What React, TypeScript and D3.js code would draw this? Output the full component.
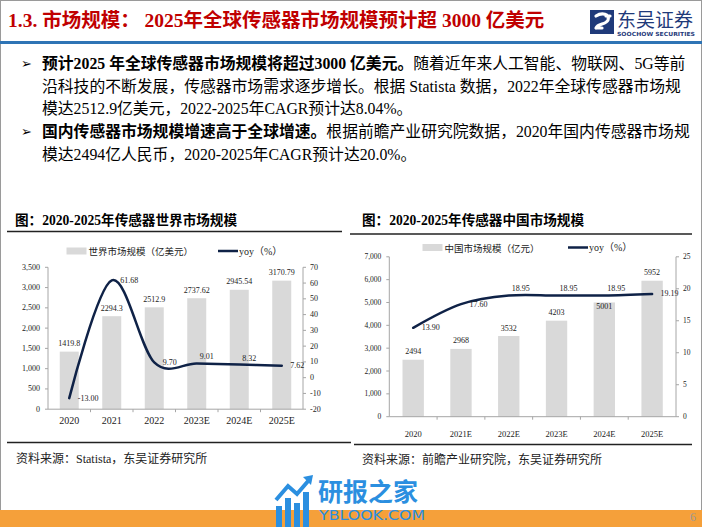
import React from 'react';
import * as d3 from 'd3';

// ---------- data ----------
const worldYears = ['2020', '2021', '2022', '2023E', '2024E', '2025E'];
const worldSize = [1419.8, 2294.3, 2512.9, 2737.62, 2945.54, 3170.79];
const worldSizeLabels = ['1419.8', '2294.3', '2512.9', '2737.62', '2945.54', '3170.79'];
const worldYoy = [-13.0, 61.68, 9.7, 9.01, 8.32, 7.62];
const worldYoyLabels = ['-13.00', '61.68', '9.70', '9.01', '8.32', '7.62'];
const worldYoyLabelPos = ['right', 'right', 'right', 'above', 'above', 'right'];
const worldBarLabelPos = ['above', 'above', 'above', 'above', 'above', 'above'];
const worldLeftTicks = [0, 500, 1000, 1500, 2000, 2500, 3000, 3500];
const worldRightTicks = [-20, -10, 0, 10, 20, 30, 40, 50, 60, 70];

const chinaYears = ['2020', '2021E', '2022E', '2023E', '2024E', '2025E'];
const chinaSize = [2494, 2968, 3532, 4203, 5001, 5952];
const chinaSizeLabels = ['2494', '2968', '3532', '4203', '5001', '5952'];
const chinaYoy = [13.9, 17.6, 18.95, 18.95, 18.95, 19.19];
const chinaYoyLabels = ['13.90', '17.60', '18.95', '18.95', '18.95', '19.19'];
const chinaYoyLabelPos = ['right', 'right', 'above', 'above', 'above', 'right'];
const chinaBarLabelPos = ['above', 'above', 'above', 'above', 'inside', 'above'];
const chinaLeftTicks = [0, 1000, 2000, 3000, 4000, 5000, 6000, 7000];
const chinaRightTicks = [0, 5, 10, 15, 20, 25];

const SERIF = "'Liberation Serif','Times New Roman','Noto Sans CJK SC',serif";
const CJK = "'Noto Sans CJK SC','Liberation Serif',sans-serif";
const BAR = '#D9D9D9';
const LINE = '#0F2247';
const AXIS = '#A6A6A6';
const TXT = '#222';

type ChartProps = {
  years: string[];
  size: number[];
  sizeLabels: string[];
  barLabelPos: string[];
  yoy: number[];
  yoyLabels: string[];
  yoyLabelPos: string[];
  leftTicks: number[];
  rightTicks: number[];
  x0: number; x1: number; yTop: number; yBot: number;
  xLabelDy: number;
  tickFont: number; xFont: number; labelFont: number;
  legendY: number; legendBarX: number; legendLineX: number;
  legendText: string;
};

function ComboChart(p: ChartProps) {
  const x = d3.scaleBand<string>().domain(p.years).range([p.x0, p.x1]).paddingInner(0.553).paddingOuter(0.2765);
  const yL = d3.scaleLinear().domain([p.leftTicks[0], p.leftTicks[p.leftTicks.length - 1]]).range([p.yBot, p.yTop]);
  const yR = d3.scaleLinear().domain([p.rightTicks[0], p.rightTicks[p.rightTicks.length - 1]]).range([p.yBot, p.yTop]);
  const cx = (d: string) => (x(d) as number) + x.bandwidth() / 2;
  const pts: [number, number][] = p.years.map((d, i) => [cx(d), yR(p.yoy[i])]);
  const line = d3.line().curve(d3.curveCardinal.tension(0))(pts) as string;
  const fmt = d3.format(',');
  const step = x.step();
  const yZero = p.yBot;
  return (
    <g>
      {/* legend */}
      <rect x={p.legendBarX} y={p.legendY - 3.5} width={20} height={7} fill={BAR} />
      <text x={p.legendBarX + 22} y={p.legendY} fontFamily={CJK} fontSize={9.5} fill={TXT} dominantBaseline="central">{p.legendText}</text>
      <line x1={p.legendLineX} x2={p.legendLineX + 20} y1={p.legendY} y2={p.legendY} stroke={LINE} strokeWidth={2.5} />
      <text x={p.legendLineX + 21} y={p.legendY} fontFamily={SERIF} fontSize={10} fill={TXT} dominantBaseline="central">yoy（%）</text>

      {/* bars */}
      {p.years.map((d, i) => (
        <rect key={d} x={x(d)} y={yL(p.size[i])} width={x.bandwidth()} height={yZero - yL(p.size[i])} fill={BAR} />
      ))}

      {/* axes */}
      <line x1={p.x0} x2={p.x0} y1={p.yTop} y2={p.yBot} stroke={AXIS} strokeWidth={1} />
      <line x1={p.x1} x2={p.x1} y1={p.yTop} y2={p.yBot} stroke={AXIS} strokeWidth={1} />
      <line x1={p.x0} x2={p.x1} y1={p.yBot} y2={p.yBot} stroke={AXIS} strokeWidth={1} />
      {p.leftTicks.map((t) => (
        <g key={'l' + t}>
          <line x1={p.x0 - 3} x2={p.x0} y1={yL(t)} y2={yL(t)} stroke={AXIS} />
          <text x={p.x0 - 8} y={yL(t)} textAnchor="end" dominantBaseline="central" fontFamily={SERIF} fontSize={p.tickFont} fill={TXT}>{fmt(t)}</text>
        </g>
      ))}
      {p.rightTicks.map((t) => (
        <g key={'r' + t}>
          <line x1={p.x1} x2={p.x1 + 3} y1={yR(t)} y2={yR(t)} stroke={AXIS} />
          <text x={p.x1 + 7} y={yR(t)} textAnchor="start" dominantBaseline="central" fontFamily={SERIF} fontSize={p.tickFont} fill={TXT}>{t}</text>
        </g>
      ))}
      {p.years.slice(1).map((d) => (
        <line key={'xt' + d} x1={x(d)! - (step - x.bandwidth()) / 2} x2={x(d)! - (step - x.bandwidth()) / 2} y1={p.yBot} y2={p.yBot + 3} stroke={AXIS} />
      ))}
      {p.years.map((d) => (
        <text key={'xl' + d} x={cx(d)} y={p.yBot + p.xLabelDy} textAnchor="middle" dominantBaseline="central" fontFamily={SERIF} fontSize={p.xFont} fill={TXT}>{d}</text>
      ))}

      {/* bar labels */}
      {p.years.map((d, i) => (
        <text key={'bl' + d} x={cx(d)} y={yL(p.size[i]) + (p.barLabelPos[i] === 'inside' ? 4 : -8)} textAnchor="middle" dominantBaseline="central" fontFamily={SERIF} fontSize={p.labelFont} fill={TXT}>{p.sizeLabels[i]}</text>
      ))}

      {/* line */}
      <path d={line} fill="none" stroke={LINE} strokeWidth={2.5} strokeLinecap="round" />
      {pts.map(([px, py], i) => (
        <text key={'ll' + i} x={p.yoyLabelPos[i] === 'right' ? px + 8.5 : px + 3} y={p.yoyLabelPos[i] === 'right' ? py : py - 6.5} textAnchor="start" dominantBaseline="central" fontFamily={SERIF} fontSize={p.labelFont} fill={TXT}>{p.yoyLabels[i]}</text>
      ))}
    </g>
  );
}

export default function App() {
  const W = 702, H = 527;
  const bodyStyle = { fontFamily: SERIF, fontSize: 15.8, fill: '#000' } as const;
  return (
    <div style={{ position: 'absolute', left: 0, top: 0 }}>
      <svg width={W} height={H} viewBox={`0 0 ${W} ${H}`} style={{ display: 'block', background: '#fff' }}>
        <rect x={0} y={0} width={W} height={H} fill="#fff" />
        {/* frame */}
        <rect x={0.5} y={0.5} width={W - 1} height={H - 1} fill="none" stroke="#9a9a9a" strokeWidth={1} />

        {/* header */}
        <text x={8} y={27} fontFamily={SERIF} fontSize={19.5} fontWeight="bold" fill="#C00000">1.3. 市场规模：  2025年全球传感器市场规模预计超 3000 亿美元</text>
        {/* logo */}
        <g>
          <rect x={590} y={10} width={24} height={24} fill="#1F3A7A" />
          <path d="M596,16 C602,12 610,14 608,20 C606,25 598,23 596,28 M606,16 L610,16 M598,28 L602,28" fill="none" stroke="#fff" strokeWidth={3.2} strokeLinecap="round" />
          <text x={617} y={27} fontFamily={CJK} fontSize={19} fill="#1F3A7A">东吴证券</text>
          <text x={617} y={36} fontFamily="'DejaVu Sans',sans-serif" fontSize={5.6} fontWeight="bold" fill="#1F3A7A" textLength={78} lengthAdjust="spacingAndGlyphs">SOOCHOW SECURITIES</text>
        </g>
        <rect x={0} y={41} width={W} height={3} fill="#2E74B5" />

        {/* bullets */}
        {[63, 131].map((y) => (
          <text key={y} x={21} y={y} dominantBaseline="central" fontFamily="'DejaVu Sans',sans-serif" fontSize={13} fill="#000">➢</text>
        ))}
        <text x={42} y={63} dominantBaseline="central" {...bodyStyle}>
          <tspan fontWeight="bold">预计2025 年全球传感器市场规模将超过3000 亿美元。</tspan>随着近年来人工智能、物联网、5G等前
        </text>
        <text x={42} y={86} dominantBaseline="central" {...bodyStyle}>沿科技的不断发展，传感器市场需求逐步增长。根据 Statista 数据，2022年全球传感器市场规</text>
        <text x={42} y={108} dominantBaseline="central" {...bodyStyle}>模达2512.9亿美元，2022-2025年CAGR预计达8.04%。</text>
        <text x={42} y={131} dominantBaseline="central" {...bodyStyle}>
          <tspan fontWeight="bold">国内传感器市场规模增速高于全球增速。</tspan>根据前瞻产业研究院数据，2020年国内传感器市场规
        </text>
        <text x={42} y={154} dominantBaseline="central" {...bodyStyle}>模达2494亿人民币，2020-2025年CAGR预计达20.0%。</text>

        {/* chart titles */}
        <text x={15} y={220} dominantBaseline="central" fontFamily={SERIF} fontSize={13.6} fontWeight="bold" fill="#000">图：2020-2025年传感器世界市场规模</text>
        <line x1={7} x2={342} y1={231.5} y2={231.5} stroke="#222" strokeWidth={1.5} />
        <text x={362} y={220} dominantBaseline="central" fontFamily={SERIF} fontSize={13.6} fontWeight="bold" fill="#000">图：2020-2025年传感器中国市场规模</text>
        <line x1={350} x2={692} y1={234} y2={234} stroke="#222" strokeWidth={1.5} />

        <ComboChart
          years={worldYears} size={worldSize} sizeLabels={worldSizeLabels} barLabelPos={worldBarLabelPos}
          yoy={worldYoy} yoyLabels={worldYoyLabels} yoyLabelPos={worldYoyLabelPos}
          leftTicks={worldLeftTicks} rightTicks={worldRightTicks}
          x0={48} x1={303} yTop={267.3} yBot={409.2} xLabelDy={11.7}
          tickFont={8} xFont={10} labelFont={8}
          legendY={251} legendBarX={66.5} legendLineX={218} legendText="世界市场规模（亿美元）"
        />
        <ComboChart
          years={chinaYears} size={chinaSize} sizeLabels={chinaSizeLabels} barLabelPos={chinaBarLabelPos}
          yoy={chinaYoy} yoyLabels={chinaYoyLabels} yoyLabelPos={chinaYoyLabelPos}
          leftTicks={chinaLeftTicks} rightTicks={chinaRightTicks}
          x0={389.3} x1={676} yTop={256.8} yBot={416.7} xLabelDy={17.5}
          tickFont={7.5} xFont={8.5} labelFont={8}
          legendY={247.5} legendBarX={422.5} legendLineX={568} legendText="中国市场规模（亿元）"
        />

        {/* source rules & text */}
        <line x1={7} x2={351} y1={442.5} y2={442.5} stroke="#222" strokeWidth={1.5} />
        <line x1={354} x2={692} y1={444.5} y2={444.5} stroke="#222" strokeWidth={1.5} />
        <text x={16} y={459} dominantBaseline="central" fontFamily={SERIF} fontSize={12} fill="#222">资料来源：Statista，东吴证券研究所</text>
        <text x={362} y={460} dominantBaseline="central" fontFamily={SERIF} fontSize={12} fill="#222">资料来源：前瞻产业研究院，东吴证券研究所</text>

        {/* footer */}
        <rect x={0} y={510} width={W} height={17} fill="#F5A03A" />
        <text x={690} y={517} dominantBaseline="central" fontFamily={SERIF} fontSize={12} fill="#999">6</text>

        {/* watermark */}
        <g fill="#2B8FE0">
          <rect x={276} y={506} width={6} height={21} />
          <rect x={285} y={498} width={6} height={29} />
          <rect x={294} y={503} width={6} height={24} />
          <rect x={303} y={492} width={6} height={35} />
          <path d="M276,500 L288,486 L297,494 L309,480" fill="none" stroke="#2B8FE0" strokeWidth={4} />
          <path d="M303,477 L313,475 L311,485 Z" />
          <text x={318} y={489.5} dominantBaseline="central" fontFamily={CJK} fontSize={25} fontWeight="bold">研报之家</text>
          <text x={319} y={515} dominantBaseline="central" fontFamily="'DejaVu Sans',sans-serif" fontSize={14.5} textLength={106} lengthAdjust="spacingAndGlyphs">YBLOOK.COM</text>
        </g>
      </svg>
    </div>
  );
}
